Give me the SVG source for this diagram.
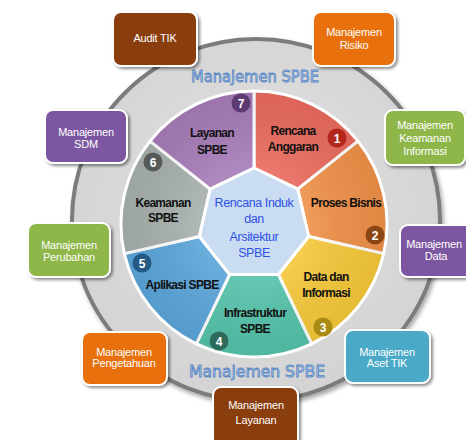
<svg xmlns="http://www.w3.org/2000/svg" width="466" height="440" viewBox="0 0 466 440">
<defs>
<style>
.seg{stroke:#ffffff;stroke-width:3;stroke-linejoin:round}
.lbl{font-family:"Liberation Sans",Arial,sans-serif;font-size:12px;font-weight:bold;fill:#111;text-anchor:middle;letter-spacing:-0.7px}
.ctr{font-family:"Liberation Sans",Arial,sans-serif;font-size:12.5px;fill:#2f52e6;text-anchor:middle;letter-spacing:-0.4px}
.num{font-family:"Liberation Sans",Arial,sans-serif;font-size:12px;font-weight:bold;fill:#fff;text-anchor:middle}
.box{stroke:#ffffff;stroke-width:2;filter:url(#sh)}
.bt{font-family:"Liberation Sans",Arial,sans-serif;font-size:11px;fill:#fff;text-anchor:middle;letter-spacing:-0.2px}
.ms{font-family:"DejaVu Sans",Verdana,sans-serif;font-size:15px;fill:#b7d2f0;stroke:#5a86c2;stroke-width:0.8;text-anchor:middle}
</style>
<filter id="sh" x="-20%" y="-20%" width="150%" height="150%">
<feDropShadow dx="2" dy="2" stdDeviation="1.5" flood-color="#000" flood-opacity="0.45"/>
</filter>
<filter id="sh2" x="-10%" y="-10%" width="125%" height="125%">
<feDropShadow dx="2" dy="3" stdDeviation="2" flood-color="#000" flood-opacity="0.35"/>
</filter>
<radialGradient id="shade" cx="254" cy="224" r="133" gradientUnits="userSpaceOnUse">
<stop offset="0.4" stop-color="#fff" stop-opacity="0.1"/>
<stop offset="1" stop-color="#000" stop-opacity="0.06"/>
</radialGradient>
<radialGradient id="bg" cx="256" cy="200" r="190" gradientUnits="userSpaceOnUse">
<stop offset="0" stop-color="#e2e2e2"/>
<stop offset="1" stop-color="#d4d4d4"/>
</radialGradient>
</defs>

<g id="ring">
<ellipse cx="256" cy="220" rx="184" ry="181" fill="url(#bg)" stroke="#7b7b7b" stroke-width="4" filter="url(#sh2)"/>
</g>

<g id="wheel">
<g id="seg1">
<path class="seg" fill="#ea6a5d" d="M254,168 L254,91 A133,133 0 0 1 357.98,141.08 L297.78,189.08 Z"/>
</g>
<g id="seg2">
<path class="seg" fill="#ef9048" d="M297.78,189.08 L357.98,141.08 A133,133 0 0 1 383.67,253.60 L308.60,236.46 Z"/>
</g>
<g id="seg3">
<path class="seg" fill="#f5c83a" d="M308.60,236.46 L383.67,253.60 A133,133 0 0 1 311.71,343.83 L278.30,274.45 Z"/>
</g>
<g id="seg4">
<path class="seg" fill="#55c2aa" d="M278.30,274.45 L311.71,343.83 A133,133 0 0 1 196.29,343.83 L229.70,274.45 Z"/>
</g>
<g id="seg5">
<path class="seg" fill="#5aa5d9" d="M229.70,274.45 L196.29,343.83 A133,133 0 0 1 124.33,253.60 L199.40,236.46 Z"/>
</g>
<g id="seg6">
<path class="seg" fill="#a7b0ad" d="M199.40,236.46 L124.33,253.60 A133,133 0 0 1 150.02,141.08 L210.22,189.08 Z"/>
</g>
<g id="seg7">
<path class="seg" fill="#a67cb8" d="M210.22,189.08 L150.02,141.08 A133,133 0 0 1 254,91 L254,168 Z"/>
</g>
<circle cx="254" cy="224" r="131.5" fill="url(#shade)" pointer-events="none"/>
<g id="center">
<polygon class="seg" fill="#c9dcf2" points="254,168 297.78,189.08 308.60,236.46 278.30,274.45 229.70,274.45 199.40,236.46 210.22,189.08"/>
<text class="ctr" x="254" y="207">Rencana Induk</text>
<text class="ctr" x="254" y="223">dan</text>
<text class="ctr" x="254" y="241">Arsitektur</text>
<text class="ctr" x="254" y="257">SPBE</text>
</g>
</g>

<g id="labels">
<text class="lbl" x="293" y="135">Rencana</text>
<text class="lbl" x="293" y="151">Anggaran</text>
<text class="lbl" x="346" y="207">Proses Bisnis</text>
<text class="lbl" x="326" y="281">Data dan</text>
<text class="lbl" x="326" y="297">Informasi</text>
<text class="lbl" x="255" y="317">Infrastruktur</text>
<text class="lbl" x="255" y="333">SPBE</text>
<text class="lbl" x="182" y="289">Aplikasi SPBE</text>
<text class="lbl" x="163" y="207">Keamanan</text>
<text class="lbl" x="163" y="222">SPBE</text>
<text class="lbl" x="212" y="137">Layanan</text>
<text class="lbl" x="212" y="154">SPBE</text>
</g>

<g id="badges">
<circle cx="337" cy="138" r="9.5" fill="#b3261c"/><text class="num" x="337" y="142.5">1</text>
<circle cx="375" cy="235" r="9.5" fill="#8a4714"/><text class="num" x="375" y="239.5">2</text>
<circle cx="323" cy="327" r="9.5" fill="#a88b12"/><text class="num" x="323" y="331.5">3</text>
<circle cx="219" cy="341" r="9.5" fill="#2e6b5b"/><text class="num" x="219" y="345.5">4</text>
<circle cx="142" cy="263" r="9.5" fill="#225a85"/><text class="num" x="142" y="267.5">5</text>
<circle cx="153" cy="162" r="9.5" fill="#555a58"/><text class="num" x="153" y="166.5">6</text>
<circle cx="241" cy="103" r="9.5" fill="#5e3a73"/><text class="num" x="241" y="107.5">7</text>
</g>

<g id="titles">
<text class="ms" x="255" y="82" textLength="128" lengthAdjust="spacingAndGlyphs">Manajemen SPBE</text>
<text class="ms" x="257" y="377" textLength="136" lengthAdjust="spacingAndGlyphs">Manajemen SPBE</text>
</g>

<g id="connectors"></g>

<g id="box-audit">
<rect class="box" x="113" y="12" width="84" height="54" rx="8" fill="#8a3e0e"/>
<text class="bt" x="155" y="42">Audit TIK</text>
</g>
<g id="box-risiko">
<rect class="box" x="313" y="12" width="82" height="54" rx="8" fill="#e8700f"/>
<text class="bt" x="354" y="36">Manajemen</text>
<text class="bt" x="354" y="49">Risiko</text>
</g>
<g id="box-keamanan-informasi">
<rect class="box" x="385" y="110" width="80" height="55" rx="8" fill="#8eb64a"/>
<text class="bt" x="425" y="129">Manajemen</text>
<text class="bt" x="425" y="142">Keamanan</text>
<text class="bt" x="425" y="155">Informasi</text>
</g>
<g id="box-data">
<rect class="box" x="400" y="225" width="82" height="52" rx="8" fill="#7b56a0"/>
<text class="bt" x="434" y="248" font-size="10.5">Manajemen</text>
<text class="bt" x="436" y="260">Data</text>
</g>
<g id="box-aset">
<rect class="box" x="345" y="330" width="85" height="53" rx="8" fill="#4aa9c6"/>
<text class="bt" x="387" y="356">Manajemen</text>
<text class="bt" x="387" y="367">Aset TIK</text>
</g>
<g id="box-layanan">
<rect class="box" x="213" y="387" width="85" height="60" rx="8" fill="#8a3e0e"/>
<text class="bt" x="256" y="409">Manajemen</text>
<text class="bt" x="256" y="424">Layanan</text>
</g>
<g id="box-pengetahuan">
<rect class="box" x="82" y="332" width="85" height="53" rx="8" fill="#e8700f"/>
<text class="bt" x="124" y="356">Manajemen</text>
<text class="bt" x="124" y="367">Pengetahuan</text>
</g>
<g id="box-perubahan">
<rect class="box" x="28" y="223" width="82" height="54" rx="8" fill="#8eb64a"/>
<text class="bt" x="69" y="249">Manajemen</text>
<text class="bt" x="69" y="261">Perubahan</text>
</g>
<g id="box-sdm">
<rect class="box" x="45" y="110" width="82" height="53" rx="8" fill="#7b56a0"/>
<text class="bt" x="86" y="136">Manajemen</text>
<text class="bt" x="86" y="148">SDM</text>
</g>
</svg>
